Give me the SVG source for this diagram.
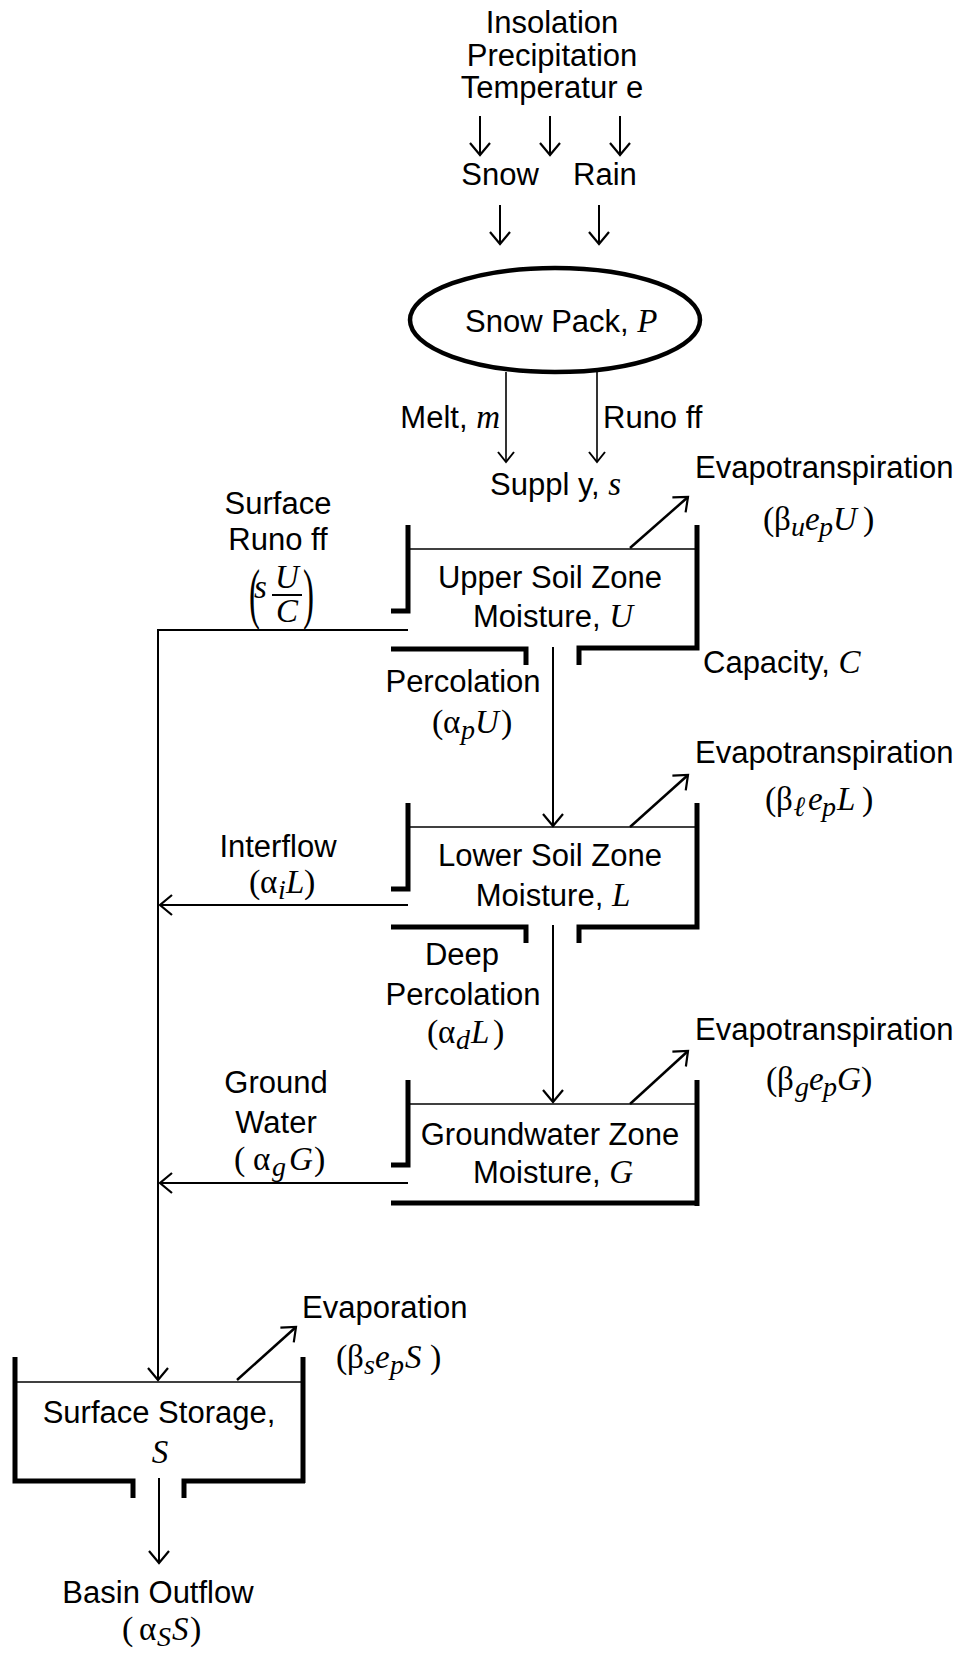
<svg xmlns="http://www.w3.org/2000/svg" width="970" height="1655" viewBox="0 0 970 1655">
<defs>
<marker id="ah" markerUnits="userSpaceOnUse" markerWidth="30" markerHeight="30" refX="0" refY="0" viewBox="-15 -15 30 30" orient="auto" overflow="visible">
<path d="M-12,-10 L0,0 L-12,10" fill="none" stroke="#000" stroke-width="2.2"/>
</marker>
<marker id="ahs" markerUnits="userSpaceOnUse" markerWidth="30" markerHeight="30" refX="0" refY="0" viewBox="-15 -15 30 30" orient="auto" overflow="visible">
<path d="M-10,-8 L0,0 L-10,8" fill="none" stroke="#000" stroke-width="2"/>
</marker>
</defs>
<style>
.t{font-family:"Liberation Sans",Arial,sans-serif;font-size:31px;fill:#000}
.c{text-anchor:middle}
.m{font-family:"Liberation Serif","Times New Roman",serif;font-size:33px;fill:#000}
.v{font-family:"Liberation Serif","Times New Roman",serif;font-size:33px;font-style:italic}
.i{font-style:italic}
.s{font-size:28px;font-style:italic}
.p{font-size:34px}
.wall{fill:none;stroke:#000;stroke-width:5;stroke-linejoin:miter;stroke-linecap:butt}
.lvl{fill:none;stroke:#000;stroke-width:1.6}
.ln{fill:none;stroke:#000;stroke-width:2;marker-end:url(#ah)}
.lt{fill:none;stroke:#000;stroke-width:1.6;marker-end:url(#ahs)}
.ev{fill:none;stroke:#000;stroke-width:2.5;marker-end:url(#ah)}
</style>
<rect width="970" height="1655" fill="#fff"/>

<g id="inputs">
<text class="t c" x="552" y="33">Insolation</text>
<text class="t c" x="552" y="66">Precipitation</text>
<text class="t c" x="552" y="98">Temperatur e</text>
<text class="t c" x="500" y="185">Snow</text>
<text class="t c" x="605" y="185">Rain</text>
</g>

<g id="snowpack">
<ellipse cx="555" cy="320" rx="145" ry="52" fill="#fff" stroke="#000" stroke-width="4.5"/>
<text class="t" x="465" y="332">Snow Pack, <tspan class="v">P</tspan></text>
</g>

<g id="supply">
<text class="t" x="500" y="428" text-anchor="end">Melt, <tspan class="v">m</tspan></text>
<text class="t" x="603" y="428">Runo ff</text>
<text class="t" x="490" y="495">Suppl y, <tspan class="v">s</tspan></text>
</g>

<g id="upper">
<path class="wall" d="M408,525 V611 H391"/>
<path class="wall" d="M697,525 V648 H579 V665"/>
<path class="wall" d="M391,649 H526 V665"/>
<path class="lvl" d="M408,549 H695"/>
<text class="t c" x="550" y="588">Upper Soil Zone</text>
<text class="t c" x="553" y="627">Moisture, <tspan class="v">U</tspan></text>
<text class="t" x="695" y="478">Evapotranspiration</text>
<text class="m" y="530"><tspan class="p" x="763">(</tspan><tspan x="774">β</tspan><tspan class="s" x="791" dy="6">u</tspan><tspan class="i" x="805" dy="-6">e</tspan><tspan class="s" x="819" dy="6">p</tspan><tspan class="i" x="833" dy="-6">U</tspan><tspan class="p" x="863">)</tspan></text>
<text class="t" x="703" y="673">Capacity, <tspan class="v">C</tspan></text>
</g>

<g id="surface-runoff-label">
<text class="t c" x="278" y="514">Surface</text>
<text class="t c" x="278" y="550">Runo ff</text>
<text class="m" transform="translate(249,616) scale(1,2.05)" font-size="31">(</text>
<text class="v" x="254" y="598" font-size="31">s</text>
<text class="v c" x="287" y="588" font-size="29">U</text>
<line x1="272" y1="595" x2="302" y2="595" stroke="#000" stroke-width="2"/>
<text class="v c" x="287" y="622" font-size="30">C</text>
<text class="m" transform="translate(303,616) scale(1,2.05)" font-size="31">)</text>
</g>

<g id="percolation-label">
<text class="t c" x="463" y="692">Percolation</text>
<text class="m" y="733"><tspan class="p" x="432">(</tspan><tspan x="443">α</tspan><tspan class="s" x="461" dy="6">p</tspan><tspan class="i" x="475" dy="-6">U</tspan><tspan class="p" x="501">)</tspan></text>
</g>

<g id="lower">
<path class="wall" d="M408,803 V889 H391"/>
<path class="wall" d="M697,803 V927 H579 V943"/>
<path class="wall" d="M391,927 H526 V943"/>
<path class="lvl" d="M408,827 H695"/>
<text class="t c" x="550" y="866">Lower Soil Zone</text>
<text class="t c" x="553" y="906">Moisture, <tspan class="v">L</tspan></text>
<text class="t" x="695" y="763">Evapotranspiration</text>
<text class="m" y="810"><tspan class="p" x="765">(</tspan><tspan x="776">β</tspan><tspan class="s" x="794" dy="6" font-weight="bold">ℓ</tspan><tspan class="i" x="808" dy="-6">e</tspan><tspan class="s" x="822" dy="6">p</tspan><tspan class="i" x="837" dy="-6">L</tspan><tspan class="p" x="862">)</tspan></text>
</g>

<g id="interflow-label">
<text class="t c" x="278" y="857">Interflow</text>
<text class="m" y="893"><tspan class="p" x="249">(</tspan><tspan x="260">α</tspan><tspan class="s" x="278" dy="6">i</tspan><tspan class="i" x="286" dy="-6">L</tspan><tspan class="p" x="304">)</tspan></text>
</g>

<g id="deep-label">
<text class="t c" x="462" y="965">Deep</text>
<text class="t c" x="463" y="1005">Percolation</text>
<text class="m" y="1043"><tspan class="p" x="427">(</tspan><tspan x="438">α</tspan><tspan class="s" x="456" dy="6">d</tspan><tspan class="i" x="471" dy="-6">L</tspan><tspan class="p" x="493">)</tspan></text>
</g>

<g id="groundwater">
<path class="wall" d="M408,1080 V1165 H391"/>
<path class="wall" d="M697,1080 V1206"/>
<path class="wall" d="M391,1203 H697"/>
<path class="lvl" d="M408,1104 H695"/>
<text class="t c" x="550" y="1145">Groundwater Zone</text>
<text class="t c" x="553" y="1183">Moisture, <tspan class="v">G</tspan></text>
<text class="t" x="695" y="1040">Evapotranspiration</text>
<text class="m" y="1090"><tspan class="p" x="766">(</tspan><tspan x="777">β</tspan><tspan class="s" x="795" dy="6">g</tspan><tspan class="i" x="809" dy="-6">e</tspan><tspan class="s" x="823" dy="6">p</tspan><tspan class="i" x="837" dy="-6">G</tspan><tspan class="p" x="861">)</tspan></text>
</g>

<g id="groundwater-label">
<text class="t c" x="276" y="1093">Ground</text>
<text class="t c" x="276" y="1133">Water</text>
<text class="m" y="1170"><tspan class="p" x="234">(</tspan><tspan x="253">α</tspan><tspan class="s" x="272" dy="6">g</tspan><tspan class="i" x="289" dy="-6">G</tspan><tspan class="p" x="314">)</tspan></text>
</g>

<g id="storage">
<path class="wall" d="M15,1357 V1481 H133 V1498"/>
<path class="wall" d="M303,1357 V1483"/>
<path class="wall" d="M305,1481 H184 V1498"/>
<path class="lvl" d="M15,1382 H301"/>
<text class="t c" x="159" y="1423">Surface Storage,</text>
<text class="v c" x="160" y="1463">S</text>
<text class="t" x="302" y="1318">Evaporation</text>
<text class="m" y="1368"><tspan class="p" x="336">(</tspan><tspan x="347">β</tspan><tspan class="s" x="364" dy="6">s</tspan><tspan class="i" x="375" dy="-6">e</tspan><tspan class="s" x="390" dy="6">p</tspan><tspan class="i" x="405" dy="-6">S</tspan><tspan class="p" x="430">)</tspan></text>
</g>

<g id="outflow">
<text class="t c" x="158" y="1603">Basin Outflow</text>
<text class="m" y="1640"><tspan class="p" x="122">(</tspan><tspan x="139">α</tspan><tspan class="s" x="157" dy="6">S</tspan><tspan class="i" x="172" dy="-6">S</tspan><tspan class="p" x="190">)</tspan></text>
</g>

<g id="connectors">
<path class="ln" d="M480,116 V155"/>
<path class="ln" d="M550,116 V155"/>
<path class="ln" d="M620,116 V155"/>
<path class="ln" d="M500,205 V244"/>
<path class="ln" d="M599,205 V244"/>
<path class="lt" d="M506,372 V462"/>
<path class="lt" d="M597,372 V462"/>
<path class="ln" d="M408,630 H158 V1380"/>
<path class="ln" d="M553,647 V826"/>
<path class="ln" d="M408,905 H160"/>
<path class="ln" d="M553,925 V1102"/>
<path class="ln" d="M408,1183 H160"/>
<path class="ln" d="M159,1478 V1563"/>
<path class="ev" d="M630,548 L688,497"/>
<path class="ev" d="M630,827 L688,775"/>
<path class="ev" d="M630,1104 L688,1051"/>
<path class="ev" d="M237,1380 L296,1327"/>
</g>
</svg>
